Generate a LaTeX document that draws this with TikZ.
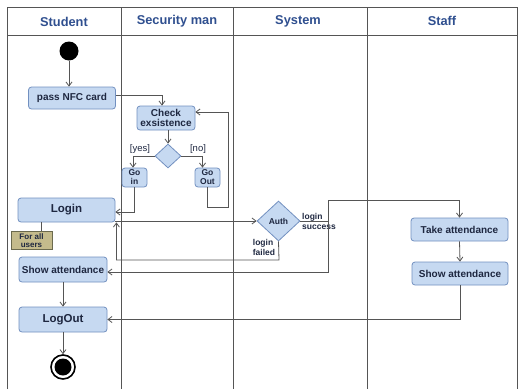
\documentclass[tikz,border=0pt]{standalone}
\usepackage{fontspec}
\setmainfont{Liberation Sans}
\usetikzlibrary{arrows.meta,shapes.geometric,calc}
\definecolor{nodefill}{HTML}{C6D9F1}
\definecolor{nodeline}{HTML}{7290C0}
\definecolor{headtxt}{HTML}{2F4F8F}
\definecolor{txt}{HTML}{1E2740}
\definecolor{linec}{HTML}{555555}
\definecolor{notefill}{HTML}{C4BB8C}
\definecolor{noteline}{HTML}{6B6A4E}
\tikzset{
  act/.style={draw=nodeline, fill=nodefill, rounded corners=3pt, line width=0.8pt,
    inner sep=0pt, align=center, text=txt, font=\bfseries\fontsize{10}{10}\selectfont},
  bigact/.style={act, font=\bfseries\fontsize{11.5}{12}\selectfont},
  dec/.style={diamond, draw=nodeline, fill=nodefill, line width=0.8pt, inner sep=0pt,
    aspect=1, text=txt, font=\bfseries\fontsize{8.5}{9}\selectfont},
  conn/.style={draw=linec, line width=0.8pt},
  arr/.style={conn, -{Straight Barb[length=4pt,width=6pt]}},
  lane/.style={draw=linec, line width=0.9pt},
  head/.style={text=headtxt, font=\bfseries\fontsize{12.8}{13}\selectfont},
  lbl/.style={text=txt, font=\fontsize{9.5}{10}\selectfont, inner sep=0pt},
  slbl/.style={text=txt, font=\bfseries\fontsize{8.5}{10}\selectfont, inner sep=0pt, align=left},
  notebox/.style={draw=noteline, fill=notefill, line width=0.8pt, inner sep=0pt,
    align=center, text=txt, font=\bfseries\fontsize{8}{8.5}\selectfont}
}
\begin{document}
\begin{tikzpicture}[x=1pt,y=-1pt]
\useasboundingbox (0,0) rectangle (518,389);
% frame and lanes
\draw[lane] (7,389) -- (7,7) -- (517,7) -- (517,389);
\draw[lane] (7,35) -- (517,35);
\draw[lane] (121,7) -- (121,389);
\draw[lane] (233,7) -- (233,389);
\draw[lane] (367,7) -- (367,389);
\node[head] (h1) at (64,22) {Student};
\node[head] (h2) at (177,21) {Security man};
\node[head] (h3) at (298,21) {System};
\node[head] (h4) at (442,21) {Staff};
% nodes
\node[circle, fill=black, minimum size=19pt, inner sep=0pt] (start) at (69,51) {};
\node[act, minimum width=87pt, minimum height=22pt] (nfc) at (72,98) {pass NFC card};
\node[act, minimum width=58pt, minimum height=24pt] (check) at (166,118) {Check\\exsistence};
\node[dec, minimum width=26pt, minimum height=24pt] (dia) at (168,156) {};
\node[act, minimum width=25pt, minimum height=19pt, font=\bfseries\fontsize{8.5}{9}\selectfont] (goin) at (134.5,177.5) {Go\\in};
\node[act, minimum width=25pt, minimum height=19pt, font=\bfseries\fontsize{8.5}{9}\selectfont] (goout) at (207.5,177.5) {Go\\Out};
\node[bigact, minimum width=97pt, minimum height=24pt] (login) at (66.5,210) {Login};
\node[notebox, minimum width=41pt, minimum height=18pt] (note) at (31.5,240.5) {For all\\users};
\node[dec, minimum width=43pt, minimum height=40pt] (auth) at (278.5,221) {Auth};
\node[act, minimum width=88pt, minimum height=25pt] (showS) at (63,269.5) {Show attendance};
\node[act, minimum width=97pt, minimum height=23pt] (take) at (459.5,229.5) {Take attendance};
\node[act, minimum width=96pt, minimum height=23pt] (showT) at (460,273.5) {Show attendance};
\node[bigact, minimum width=88pt, minimum height=25pt] (logout) at (63,319.5) {LogOut};
\node[circle, draw=black, line width=1.6pt, fill=white, minimum size=24pt, inner sep=0pt] (end) at (63,367) {};
\node[circle, fill=black, minimum size=17pt, inner sep=0pt] (endin) at (63,367) {};
% labels
\node[lbl] (lyes) at (140,149) {[yes]};
\node[lbl] (lno) at (198,149) {[no]};
\node[slbl, anchor=west] (lsucc) at (302,221) {login\\success};
\node[slbl, anchor=center] (lfail) at (264,247) {login\\failed};
% connectors
\coordinate (j) at (328,221);
\coordinate (jt) at (328,200);
\coordinate (f) at (279,260);
\draw[arr] (start.south) -- (start |- nfc.north);
\draw[arr] ([yshift=3pt]nfc.east) -| ([xshift=-4pt]check.north);
\draw[arr] (check.south -| dia.north) -- (dia.north);
\draw[arr] (dia.west) -| ([xshift=-1.5pt]goin.north);
\draw[arr] (dia.east) -| ([xshift=-5pt]goout.north);
\draw[arr] (goin.south) |- ([yshift=-2pt]login.east);
\draw[arr] (goout.south) |- (228,207) |- ([yshift=6pt]check.east);
\draw[conn] (login.south -| 41,0) -- (note.north -| 41,0);
\draw[arr] (login.east |- auth.west) -- (auth.west);
\draw[arr] (auth.south) -- (f) -| ([xshift=1pt]login.south east);
\draw[conn] (auth.east) -- (j);
\draw[arr] (j) -- (jt) -| (take.north);
\draw[arr] (j) |- ([yshift=-2.5pt]showS.east);
\draw[arr] (take.south) -- (showT.north);
\draw[arr] (showT.south) |- (logout.east);
\draw[arr] (showS.south) -- (logout.north);
\draw[arr] (logout.south) -- (end.north);
\end{tikzpicture}
\end{document}
